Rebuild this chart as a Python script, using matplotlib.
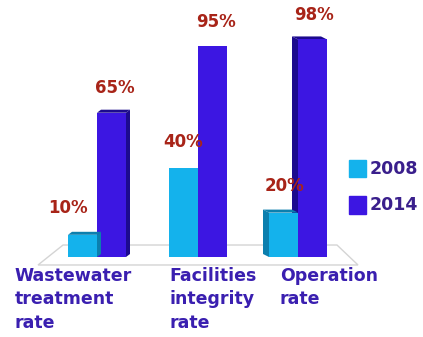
import matplotlib.pyplot as plt
from matplotlib.patches import Polygon, Patch

categories = ["Wastewater\ntreatment\nrate", "Facilities\nintegrity\nrate", "Operation\nrate"]
years = ["2008", "2014"]
values_2008 = [10, 40, 20]
values_2014 = [65, 95, 98]

c2008, c2014 = "#14b2ec", "#3c16e2"
c2008_dark, c2014_dark = "#0b7fae", "#1c0a8e"
label_red = "#a82418"
text_blue = "#3a1fb0"
FONT = "DejaVu Sans"

# pixel scale of the original picture
px_x = 100.5   # pixels per category step
px_y = 2.22    # pixels per percent
W, H = 423, 337

fig = plt.figure(figsize=(W / 100, H / 100), dpi=100)
ax = fig.add_axes([0, 0, 1, 1])
ax.set_xlim(-97 / px_x, (W - 97) / px_x)
ax.set_ylim(-80 / px_y, (H - 80) / px_y)
ax.axis("off")

bw = 29 / px_x
depth = [4, 0, -6]  # side face offset in pixels per group
dy = 3 / px_y

# floor
floor = Polygon([(-0.338, 5.4), (2.388, 5.4), (2.597, -3.6), (-0.587, -3.6)],
                closed=True, fill=False, edgecolor="#d4d4d4", lw=1, zorder=0)
ax.add_patch(floor)

for i in range(len(categories)):
    dx = depth[i] / px_x
    for j, (vals, col, dark) in enumerate([(values_2014, c2014, c2014_dark),
                                           (values_2008, c2008, c2008_dark)]):
        h = vals[i]
        xl = i if j == 0 else i - bw
        xr = xl + bw
        if dx != 0:
            xs = xr if dx > 0 else xl
            ax.add_patch(Polygon([(xs, 0), (xs + dx, dy), (xs + dx, h + dy), (xs, h)],
                                 closed=True, color=dark, lw=0, zorder=1 + j * 2))
            ax.add_patch(Polygon([(xl, h), (xl + dx, h + dy), (xr + dx, h + dy), (xr, h)],
                                 closed=True, color=dark, lw=0, zorder=1 + j * 2))
    ax.bar(i - bw / 2, values_2008[i], width=bw, color=c2008, zorder=4)
    ax.bar(i + bw / 2, values_2014[i], width=bw, color=c2014, zorder=2)

# value labels
lab_off_2008 = [-0.29, -0.14, -0.13]
lab_off_2014 = [0.18, 0.18, 0.16]
for i in range(len(categories)):
    ax.text(i + lab_off_2008[i], values_2008[i] + 12, f"{values_2008[i]}%",
            ha="center", va="center", color=label_red, fontsize=12,
            fontweight="bold", family=FONT)
    ax.text(i + lab_off_2014[i], values_2014[i] + 11, f"{values_2014[i]}%",
            ha="center", va="center", color=label_red, fontsize=12,
            fontweight="bold", family=FONT)

# category labels
cat_x = [-0.82, 0.725, 1.82]
for i, name in enumerate(categories):
    ax.text(cat_x[i], -(267 - 257) / px_y, name, ha="left", va="top",
            color=text_blue, fontsize=12.5, fontweight="bold",
            family=FONT, linespacing=1.38)

handles = [Patch(color=c2008), Patch(color=c2014)]
leg = fig.legend(handles, years, loc="upper left", bbox_to_anchor=(333 / W, 1 - 144 / H),
                 frameon=False, handlelength=1.0, handleheight=1.2, handletextpad=0.2,
                 labelspacing=1.0, prop={"family": FONT, "weight": "bold", "size": 12.5})
for t in leg.get_texts():
    t.set_color("#3a1f8c")

fig.savefig("out.png", dpi=100)
